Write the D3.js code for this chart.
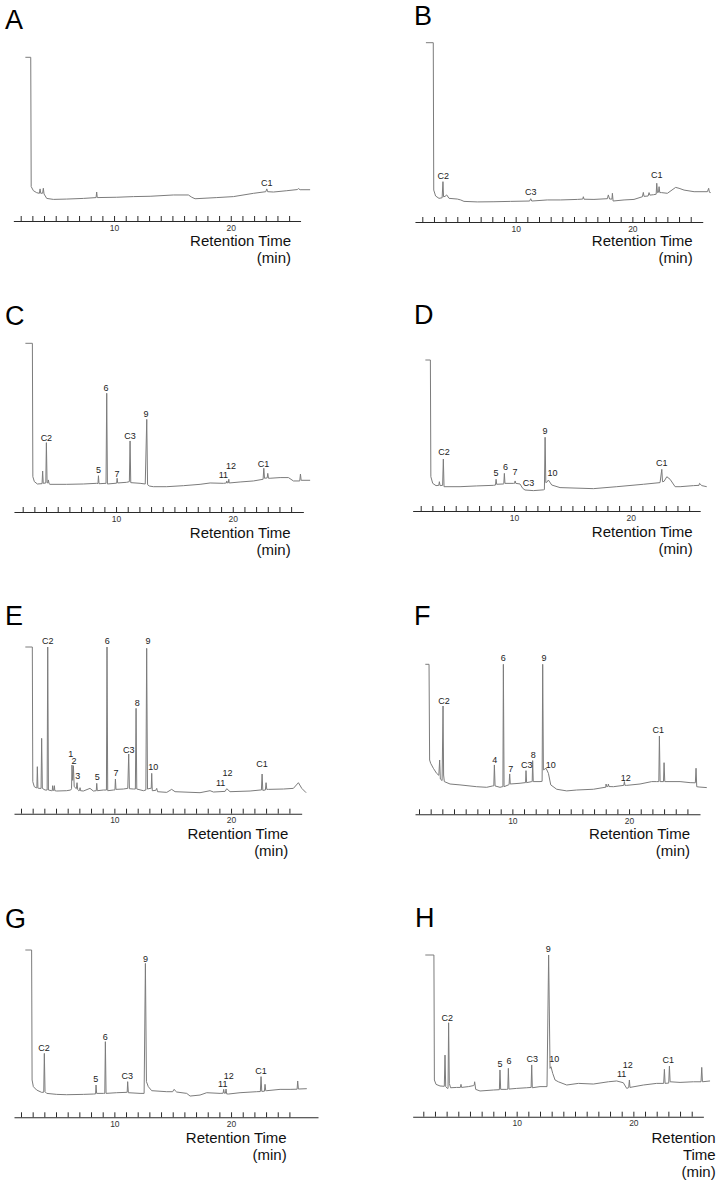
<!DOCTYPE html>
<html>
<head>
<meta charset="utf-8">
<script src="https://cdn.jsdelivr.net/npm/d3@7"></script>
<style>
  html, body { margin: 0; padding: 0; background: #fff; }
  svg { display: block; font-family: "Liberation Sans", Arial, sans-serif; }
</style>
</head>
<body>
<svg id="chart" width="720" height="1185"></svg>
<script>
// ---------------- DATA (retention time in min, signal in % of full scale) ----------------
const panelNames = ["A", "B", "C", "D", "E", "F", "G", "H"];
const tickMinutes = [2,3,4,5,6,7,8,9,10,11,12,13,14,15,16,17,18,19,20,21,22,23,24,25];
const tickLabels = {10: "10", 20: "20"};
const axisTitle = ["Retention Time", "(min)"];
const axisTitleH = ["Retention", "Time", "(min)"];

const traceA = [[2.4,100],[2.86,100],[2.9,21],[3.09,18.5],[3.37,17.3],[3.6,16.9],[3.66,19.6],[3.72,16.9],[3.88,17],[3.94,20],[4.0,16.5],[4.23,13.8],[4.8,13.2],[5.94,13.4],[7.37,13.8],[8.46,14.3],[8.51,17.7],[8.56,14.3],[10.23,14.5],[11.66,14.9],[13.09,15.1],[15.09,15.9],[16.37,15.9],[16.66,14.5],[16.94,13.6],[18.8,14.3],[20.23,14.9],[21.94,16.9],[23.0,17.9],[23.09,19.6],[23.16,17.9],[23.66,17.7],[24.8,18.5],[25.7,19.2],[25.8,19.8],[25.94,19.1],[26.8,19.1]];
const traceB = [[2.31,100],[2.94,100],[2.98,17.8],[3.14,14.5],[3.43,13.2],[3.7,13.5],[3.77,22.5],[3.82,14.1],[3.95,14.3],[4.09,15.1],[4.29,13.2],[5.0,12.8],[5.29,12.3],[5.57,11.5],[6.71,11.2],[8.14,11.3],[9.57,11.5],[11.2,11.7],[11.29,13.0],[11.38,11.7],[12.71,12.3],[13.86,12.3],[15.29,12.6],[15.75,12.8],[15.8,14.1],[15.86,12.7],[16.71,12.6],[17.86,13.0],[17.94,15.1],[18.05,12.8],[18.25,12.8],[18.29,16.0],[18.35,11.7],[19.29,12.3],[20.14,12.6],[20.86,14.1],[20.94,16.5],[21.0,14.3],[21.35,14.5],[21.43,16.4],[21.5,15.0],[21.8,15.2],[22.04,15.5],[22.09,21.6],[22.15,16.4],[22.24,16.6],[22.29,19.7],[22.35,16.4],[22.49,16.4],[23.0,16.0],[23.71,19.3],[24.0,18.8],[24.43,17.8],[25.29,16.9],[26.43,16.9],[26.54,18.8],[26.6,16.6],[26.71,16.4]];
const traceC = [[2.23,100],[2.83,100],[2.87,20.9],[3.0,18.0],[3.26,16.6],[3.66,16.8],[3.71,24.3],[3.76,17.0],[3.98,17.2],[4.03,41.1],[4.09,17.4],[4.16,17.2],[4.2,19],[4.26,16.8],[4.34,16.4],[5.77,16.4],[7.2,16.6],[8.34,17.0],[8.45,16.9],[8.49,21.5],[8.54,16.8],[8.63,16.8],[9.14,17.0],[9.2,70.4],[9.26,16.6],[9.91,17.0],[10.05,17.1],[10.09,20.0],[10.14,17.2],[10.91,17.6],[11.14,18.0],[11.2,42.1],[11.26,17.4],[12.06,17.0],[12.5,16.6],[12.63,54.9],[12.7,16.2],[12.85,15.4],[13.2,15.0],[14.34,15.0],[15.77,15.6],[17.2,16.4],[18.06,17.2],[19.2,17.0],[19.45,17.2],[19.49,18.4],[19.54,17.2],[19.62,17.3],[19.66,19.4],[19.7,17.2],[20.63,17.8],[21.77,18.4],[22.6,19.4],[22.66,25.9],[22.72,20.0],[22.95,20.2],[23.0,22.9],[23.06,20.0],[23.2,20.0],[24.06,20.4],[24.77,20.4],[25.2,18.4],[25.74,18.4],[25.8,22.5],[25.86,18.8],[26.63,18.8]];
const traceD = [[2.4,100],[2.83,100],[2.87,22.7],[3.03,18.3],[3.31,16.8],[3.55,17],[3.6,19.4],[3.66,16.8],[3.88,17],[3.94,34.4],[4.0,16.1],[5.37,16.1],[6.8,16.6],[8.23,17.0],[8.41,17.2],[8.46,21.0],[8.51,17.7],[9.09,17.9],[9.12,18],[9.17,24.9],[9.22,18.3],[9.94,18.3],[10.04,18.3],[10.09,19.9],[10.15,18.3],[10.51,17.9],[10.74,15.0],[10.94,13.9],[11.66,13.5],[12.51,14.0],[12.6,14.2],[12.66,48.8],[12.72,18.8],[12.8,19],[12.94,20.5],[13.23,17.2],[13.94,15.5],[16.8,14.8],[18.8,16.1],[21.09,17.7],[22.51,18.8],[22.66,27.6],[22.72,19.4],[22.85,19.6],[23.09,22.7],[23.37,21.0],[23.8,16.1],[24.23,16.1],[25.37,16.8],[25.85,17],[25.89,18.3],[26.09,16.8],[26.51,16.1]];
const traceE = [[2.37,100],[2.97,100],[3.01,19.2],[3.14,16.2],[3.29,15.6],[3.36,15.5],[3.4,28.2],[3.45,15.3],[3.51,15.2],[3.72,15.2],[3.77,45.2],[3.83,15.2],[4.06,14.2],[4.24,14.2],[4.29,100],[4.35,14.2],[4.63,13.8],[4.68,13.8],[4.71,16.8],[4.76,14],[4.82,14],[4.86,16.8],[4.9,13.8],[5.06,13.6],[5.91,13.8],[6.26,14.2],[6.33,15],[6.37,29.2],[6.43,20],[6.49,28.8],[6.56,16.2],[6.74,15],[6.8,18.6],[6.86,14.5],[6.94,13.8],[7.02,14],[7.06,15.6],[7.1,13.8],[7.34,13.6],[7.91,15.2],[8.2,13.6],[8.45,13.8],[8.49,18.2],[8.54,13.8],[9.06,14.2],[9.32,14.2],[9.37,100],[9.43,13.8],[9.91,14.2],[10.05,14.3],[10.09,20.8],[10.14,14.6],[10.77,14.8],[11.15,15.2],[11.23,35.8],[11.29,15.0],[11.63,14.8],[11.8,14.8],[11.86,63.2],[11.92,14.8],[12.49,13.8],[12.7,14.2],[12.77,99.2],[12.84,14.8],[13.06,15.2],[13.16,15.2],[13.2,24.2],[13.25,13.8],[13.55,14],[13.63,15.2],[13.7,13.2],[14.49,12.8],[14.91,14.6],[15.2,13.2],[17.34,12.6],[18.2,13.8],[18.49,13.0],[19.49,13.4],[19.63,15.0],[19.91,13.2],[21.63,13.6],[22.49,14.2],[22.6,14.2],[22.66,23.8],[22.72,14.0],[22.94,14.2],[23.0,18.6],[23.06,14.6],[23.2,14.6],[24.49,14.8],[25.34,15.2],[25.77,18.6],[26.06,15.2],[26.43,12.6]];
const traceF = [[2.54,100],[2.86,100],[2.91,36.2],[3.0,34.0],[3.23,30.7],[3.51,27.3],[3.7,26],[3.77,36.2],[3.83,23.5],[3.98,22.5],[4.06,72.2],[4.11,26.2],[4.17,21.8],[4.66,20.2],[5.51,19.6],[6.94,18.4],[7.8,18.0],[8.31,18.9],[8.41,19],[8.46,32.9],[8.52,18.9],[8.94,18.0],[9.14,18.4],[9.19,18.4],[9.23,100],[9.29,18.4],[9.66,19.6],[9.72,19.8],[9.77,26.9],[9.82,20.2],[10.66,20.7],[11.09,21.1],[11.13,21.1],[11.17,29.1],[11.22,21.1],[11.66,21.8],[11.7,21.8],[11.74,35.8],[11.79,21.8],[12.37,21.8],[12.55,22],[12.6,100],[12.66,29.6],[12.89,30.7],[13.09,27.3],[13.29,19.6],[13.8,16.7],[14.66,15.6],[15.51,16.2],[16.94,16.7],[17.94,18.0],[18.0,18],[18.03,20.2],[18.08,18.5],[18.18,18.5],[18.23,20.2],[18.28,18.5],[18.66,18.4],[19.55,19.3],[19.6,21.8],[19.65,19.3],[19.8,19.3],[20.94,20.2],[21.94,21.8],[22.37,21.8],[22.55,21.8],[22.6,52.2],[22.66,21.8],[22.95,21.8],[23.0,34.4],[23.06,21.8],[24.37,21.8],[25.23,21.1],[25.68,21],[25.74,30.7],[25.8,18.4],[26.0,18.2],[26.66,17.8]];
const traceG = [[2.37,100],[2.91,100],[2.95,22.3],[3.06,18.3],[3.34,16.3],[3.77,14.9],[3.95,15],[4.0,38.2],[4.06,15.3],[4.2,14.3],[5.06,13.7],[5.91,13.5],[7.34,13.7],[8.2,13.9],[8.39,14],[8.43,19.3],[8.48,14.3],[9.06,14.3],[9.18,14.3],[9.23,45.2],[9.29,14.3],[10.2,14.7],[11.0,14.9],[11.1,15],[11.14,21.3],[11.2,14.7],[12.2,14.3],[12.55,14.3],[12.66,92.0],[12.75,21.3],[12.91,18.3],[13.2,15.9],[14.49,15.3],[15.0,15.3],[15.11,16.7],[15.34,15.1],[16.2,14.3],[16.49,12.7],[17.34,13.3],[17.91,14.7],[19.06,14.3],[19.32,14.4],[19.37,16.7],[19.42,14.4],[19.52,14.4],[19.57,16.9],[19.62,14],[19.77,13.9],[20.77,14.7],[22.2,15.3],[22.51,15.4],[22.57,24.3],[22.63,15.5],[22.86,15.6],[22.91,19.7],[22.97,15.9],[23.06,15.9],[24.2,16.7],[25.06,16.7],[25.66,16.8],[25.71,21.7],[25.77,16.9],[26.49,17.1]];
const traceH = [[2.17,100],[2.91,100],[2.95,22.7],[3.09,20.0],[3.43,19.0],[3.8,18.8],[3.86,38.1],[3.92,18.6],[4.06,17.5],[4.12,17.5],[4.17,58.1],[4.23,20.6],[4.34,17.9],[4.86,18.1],[5.18,18.1],[5.23,20.0],[5.28,18.1],[5.86,18.6],[6.29,19.2],[6.36,19.5],[6.4,21.6],[6.49,16.9],[6.86,15.9],[8.0,16.5],[8.52,16.7],[8.57,28.9],[8.63,16.9],[9.14,16.9],[9.24,17],[9.29,29.9],[9.34,17.1],[10.0,17.5],[10.86,17.9],[11.24,18.1],[11.29,32.0],[11.34,17.9],[12.0,18.6],[12.6,18.6],[12.74,100],[12.86,29.9],[12.94,30.9],[13.09,26.8],[13.29,22.7],[13.57,21.6],[14.29,19.6],[15.29,20.6],[16.57,20.2],[17.86,21.6],[18.57,22.1],[19.14,21.0],[19.43,17.5],[19.6,18],[19.66,22.7],[19.71,18.1],[20.86,19.6],[22.0,20.6],[22.6,20.6],[22.66,29.3],[22.72,20.6],[23.03,20.8],[23.09,31.3],[23.15,21.6],[24.0,21.2],[25.14,21.6],[25.8,21.6],[25.86,30.5],[25.92,21.6],[26.57,22.1]];

// peak labels: [text, retention time, signal level of the label baseline]
const labelsA = [["C1",23.09,21.6]];
const labelsB = [["C2",3.8,24.0],["C3",11.29,15.1],["C1",22.09,24.3]];
const labelsC = [["C2",4.03,42.3],["5",8.49,22.9],["6",9.14,71.7],["7",10.09,20.9],["C3",11.2,43.1],["9",12.57,56.1],["11",19.2,20.2],["12",19.86,25.2],["C1",22.63,26.9]];
const labelsD = [["C2",4.0,37.1],["5",8.46,23.4],["6",9.26,27.2],["7",10.09,23.8],["C3",11.23,16.8],["9",12.66,50.8],["10",13.29,23.4],["C1",22.66,29.8]];
const labelsE = [["C2",4.29,101.6],["1",6.26,34.2],["2",6.54,29.8],["3",6.86,20.8],["5",8.54,20.2],["6",9.4,101.6],["7",10.14,22.8],["C3",11.23,36.6],["8",11.97,64.6],["9",12.89,101.6],["10",13.34,26.2],["11",19.11,16.6],["12",19.69,22.4],["C1",22.66,28.2]];
const labelsF = [["C2",4.14,73.6],["4",8.49,34.0],["6",9.23,102.4],["7",9.86,28.4],["C3",11.23,30.7],["8",11.8,37.3],["9",12.71,102.4],["10",13.29,30.7],["12",19.71,22.2],["C1",22.51,54.0]];
const labelsG = [["C2",3.97,39.6],["5",8.4,21.1],["6",9.23,46.2],["C3",11.11,22.7],["9",12.66,93.0],["11",19.29,17.9],["12",19.8,22.6],["C1",22.57,25.7]];
const labelsH = [["C2",4.06,59.4],["5",8.57,30.9],["6",9.34,32.4],["C3",11.34,33.6],["9",12.71,102],["10",13.23,33.6],["11",19.0,24.4],["12",19.51,30.2],["C1",23.0,33.0]];

const traces = {A: traceA, B: traceB, C: traceC, D: traceD, E: traceE, F: traceF, G: traceG, H: traceH};
const labels = {A: labelsA, B: labelsB, C: labelsC, D: labelsD, E: labelsE, F: labelsF, G: labelsG, H: labelsH};

// ---------------- LAYOUT ----------------
const PX_PER_MIN = 11.67;
const layout = {
  A: {lx: 5,   ly: 29,    tick2: 20.7,  axisY: 221,    topY: 57.3,  a0: 1.37, a1: 25.98, tx: 291,   ty: 246},
  B: {lx: 414, ly: 25,    tick2: 422.3, axisY: 222,    topY: 42.7,  a0: 1.37, a1: 26.03, tx: 692.7, ty: 246},
  C: {lx: 5,   ly: 325,   tick2: 22.7,  axisY: 512,    topY: 343.3, a0: 1.25, a1: 26.05, tx: 290.7, ty: 537.5},
  D: {lx: 414, ly: 324,   tick2: 420.7, axisY: 511,    topY: 360,   a0: 1.31, a1: 25.95, tx: 692.7, ty: 537},
  E: {lx: 5,   ly: 625,   tick2: 21,    axisY: 813.7,  topY: 647,   a0: 1.4,  a1: 26.05, tx: 288.3, ty: 839},
  F: {lx: 414, ly: 625,   tick2: 419,   axisY: 814.3,  topY: 664.3, a0: 1.66, a1: 26.08, tx: 690,   ty: 839},
  G: {lx: 5,   ly: 928,   tick2: 21,    axisY: 1117.3, topY: 950,   a0: 1.4,  a1: 27.45, tx: 286.7, ty: 1142.5},
  H: {lx: 415, ly: 926.7, tick2: 423.3, axisY: 1116.7, topY: 955,   a0: 1.09, a1: 26.0,  tx: 715.7, ty: 1143, multi: true}
};

const svg = d3.select("#chart");
svg.append("rect").attr("width", 720).attr("height", 1185).attr("fill", "#fff");

panelNames.forEach(name => {
  const L = layout[name];
  const x = d3.scaleLinear()
    .domain([L.a0, L.a1])
    .range([L.tick2 + (L.a0 - 2) * PX_PER_MIN, L.tick2 + (L.a1 - 2) * PX_PER_MIN]);
  const y = d3.scaleLinear().domain([0, 100]).range([L.axisY, L.topY]);
  const g = svg.append("g").attr("class", "panel-" + name);

  // panel letter
  g.append("text")
    .attr("x", L.lx).attr("y", L.ly)
    .attr("font-size", 27).attr("fill", "#000")
    .text(name);

  // trace
  const line = d3.line().x(d => x(d[0])).y(d => y(d[1]));
  g.append("path")
    .datum(traces[name])
    .attr("d", line)
    .attr("fill", "none")
    .attr("stroke", "#7c7c7c")
    .attr("stroke-width", 1)
    .attr("stroke-linejoin", "miter");

  // axis (ticks pointing up, labels below)
  const axis = d3.axisBottom(x)
    .tickValues(tickMinutes)
    .tickFormat(d => tickLabels[d] || "")
    .tickSizeInner(-5)
    .tickSizeOuter(0)
    .tickPadding(3.5);
  const ag = g.append("g")
    .attr("transform", `translate(0,${L.axisY})`)
    .call(axis);
  ag.select(".domain").attr("stroke", "#2a2a2a").attr("stroke-width", 1.1);
  ag.selectAll(".tick line").attr("stroke", "#2a2a2a").attr("stroke-width", 1);
  ag.selectAll(".tick text")
    .attr("font-size", 8.5)
    .attr("font-family", "Liberation Sans, Arial, sans-serif")
    .attr("fill", "#333");

  // peak labels
  g.selectAll("text.peak")
    .data(labels[name])
    .join("text")
    .attr("class", "peak")
    .attr("x", d => x(d[1]))
    .attr("y", d => y(d[2]))
    .attr("text-anchor", "middle")
    .attr("font-size", 9)
    .attr("fill", "#222")
    .text(d => d[0]);

  // axis title
  const lines = L.multi ? axisTitleH : axisTitle;
  g.selectAll("text.title")
    .data(lines)
    .join("text")
    .attr("class", "title")
    .attr("x", L.tx)
    .attr("y", (d, i) => L.ty + i * 17)
    .attr("text-anchor", "end")
    .attr("font-size", 15)
    .attr("fill", "#111")
    .text(d => d);
});
</script>
</body>
</html>
